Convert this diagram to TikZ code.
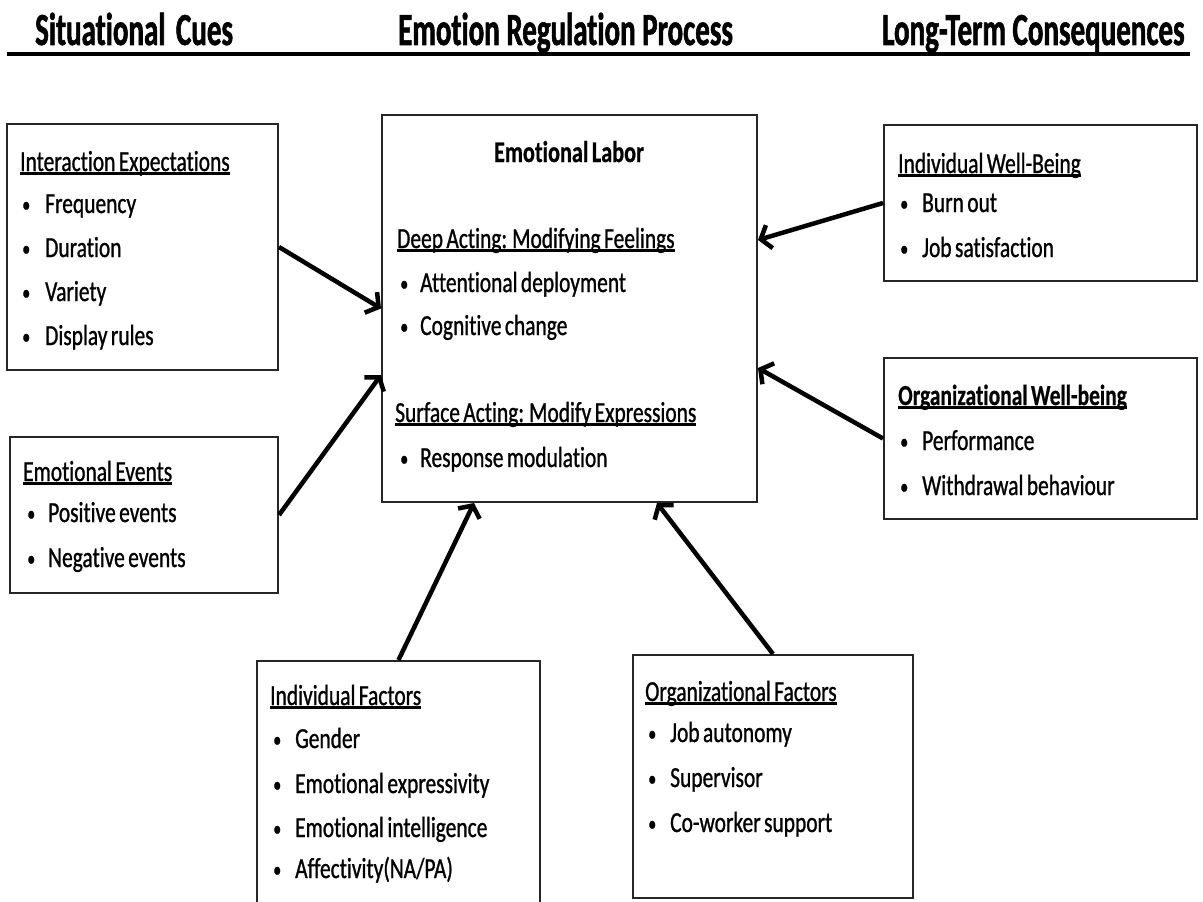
\documentclass[tikz,border=0pt]{standalone}
\usepackage{fontspec}
\setmainfont{Carlito}[FakeStretch=0.74, WordSpace=0.7, Ligatures=NoCommon, UprightFeatures={FakeBold=0.9}, BoldFeatures={FakeBold=0.6}]
\newfontfamily\headfont{Carlito}[FakeStretch=0.63, Ligatures=NoCommon, BoldFeatures={FakeBold=1.2}]
\usetikzlibrary{arrows.meta,fit}
\newcommand\myul[1]{\setbox0\hbox{#1}\leavevmode\rlap{\rule[-4pt]{\wd0}{2.6pt}}\box0}
\newcommand\bu[1]{\makebox[#1pt][l]{\raisebox{1pt}{\fontsize{22}{22}\selectfont\textbullet}}}
\begin{document}
\begin{tikzpicture}[x=1pt,y=-1pt,
  box/.style={draw=black!85, line width=2pt, inner sep=0pt, rectangle},
  txt/.style={anchor=base west, inner sep=0pt, font=\fontsize{29}{34}\selectfont},
  ttl/.style={anchor=base, inner sep=0pt, font=\fontsize{30}{36}\selectfont\bfseries},
  head/.style={anchor=base west, inner sep=0pt, font=\headfont\fontsize{46}{50}\selectfont\bfseries},
  arr/.style={line width=4.5pt, -{Straight Barb[length=9pt,width=24pt]}}]
\useasboundingbox (0,0) rectangle (1203,902);
\fill[white] (0,0) rectangle (1203,902);

% headings
\node[head] (h1) at (35,45) {Situational\hspace{4pt} Cues};
\node[head] (h2) at (398,45) {Emotion Regulation Process};
\node[head] (h3) at (882,45) {Long-Term Consequences};
\coordinate (rl) at (7,54);
\coordinate (rr) at (1190,54);
\draw[line width=4pt] (rl) -- (rr);

% boxes
\node[box, fit={(7,124) (278,370)}] (b1) {};
\node[box, fit={(10,437) (278,593)}] (b2) {};
\node[box, fit={(382,115) (757,502)}] (c) {};
\node[box, fit={(884,125) (1197,281)}] (r1) {};
\node[box, fit={(884,358) (1197,519)}] (r2) {};
\node[box, fit={(257,661) (540,915)}] (f1) {};
\node[box, fit={(633,655) (913,898)}] (f2) {};

% box 1
\node[txt] (b1t) at (20,171) {\myul{Interaction Expectations}};
\node[txt] (b1a) at (22,213) {\bu{23}Frequency};
\node[txt] (b1b) at (22,257) {\bu{23}Duration};
\node[txt] (b1c) at (22,301) {\bu{23}Variety};
\node[txt] (b1d) at (22,345) {\bu{23}Display rules};

% box 2
\node[txt] (b2t) at (23,481) {\myul{Emotional Events}};
\node[txt] (b2a) at (27,522) {\bu{21}Positive events};
\node[txt] (b2b) at (27,567) {\bu{21}Negative events};

% centre
\node[ttl] (ct) at (569,162) {Emotional Labor};
\node[txt] (c1) at (397,248) {\myul{Deep Acting: Modifying Feelings}};
\node[txt] (c1a) at (400,292) {\bu{20}Attentional deployment};
\node[txt] (c1b) at (400,335) {\bu{20}Cognitive change};
\node[txt] (c2) at (395,422) {\myul{Surface Acting: Modify Expressions}};
\node[txt] (c2a) at (400,467) {\bu{20}Response modulation};

% right 1
\node[txt] (r1t) at (898,173) {\myul{Individual Well-Being}};
\node[txt] (r1a) at (900,212) {\bu{22}Burn out};
\node[txt] (r1b) at (900,257) {\bu{22}Job satisfaction};

% right 2
\node[txt, font=\fontsize{29}{34}\selectfont\bfseries] (r2t) at (898,405) {\myul{Organizational Well-being}};
\node[txt] (r2a) at (900,450) {\bu{22}Performance};
\node[txt] (r2b) at (900,495) {\bu{22}Withdrawal behaviour};

% bottom 1
\node[txt] (f1t) at (270,705) {\myul{Individual Factors}};
\node[txt] (f1a) at (273,748) {\bu{22}Gender};
\node[txt] (f1b) at (273,793) {\bu{22}Emotional expressivity};
\node[txt] (f1c) at (273,837) {\bu{22}Emotional intelligence};
\node[txt] (f1d) at (273,878) {\bu{22}Affectivity(NA/PA)};

% bottom 2
\node[txt] (f2t) at (645,701) {\myul{Organizational Factors}};
\node[txt] (f2a) at (648,742) {\bu{22}Job autonomy};
\node[txt] (f2b) at (648,787) {\bu{22}Supervisor};
\node[txt] (f2c) at (648,832) {\bu{22}Co-worker support};

% arrows
\draw[arr] (b1.east) -- (c.west);
\draw[arr] (b2.east) -- ([yshift=-66.5pt]c.west);
\draw[arr] (r1.west) -- ([yshift=68.5pt]c.east);
\draw[arr] (r2.west) -- ([yshift=-59.5pt]c.east);
\draw[arr] (f1.north) -- ([xshift=-95.5pt]c.south);
\draw[arr] (f2.north) -- ([xshift=87.5pt]c.south);
\end{tikzpicture}
\end{document}
